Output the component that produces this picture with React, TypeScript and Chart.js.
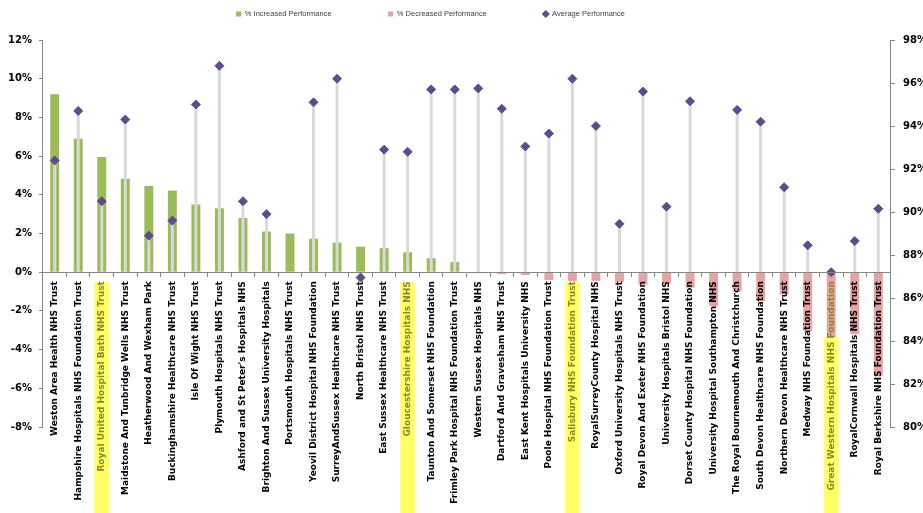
import React, { useEffect, useRef } from 'react';
import { Chart, registerables } from 'chart.js';

Chart.register(...registerables);

const categories = [
  'Weston Area Health NHS Trust',
  'Hampshire Hospitals NHS Foundation Trust',
  'Royal United Hospital Bath NHS Trust',
  'Maidstone And Tunbridge Wells NHS Trust',
  'Heatherwood And Wexham Park',
  'Buckinghamshire Healthcare NHS Trust',
  'Isle Of Wight NHS Trust',
  'Plymouth Hospitals NHS Trust',
  "Ashford and St Peter's Hospitals NHS",
  'Brighton And Sussex University Hospitals',
  'Portsmouth Hospitals NHS Trust',
  'Yeovil District Hospital NHS Foundation',
  'SurreyAndSussex Healthcare NHS Trust',
  'North Bristol NHS Trust',
  'East Sussex Healthcare NHS Trust',
  'Gloucestershire Hospitals NHS',
  'Taunton And Somerset NHS Foundation',
  'Frimley Park Hospital NHS Foundation Trust',
  'Western Sussex Hospitals NHS',
  'Dartford And Gravesham NHS Trust',
  'East Kent Hospitals University NHS',
  'Poole Hospital NHS Foundation Trust',
  'Salisbury NHS Foundation Trust',
  'RoyalSurreyCounty Hospital NHS',
  'Oxford University Hospitals NHS Trust',
  'Royal Devon And Exeter NHS Foundation',
  'University Hospitals Bristol NHS',
  'Dorset County Hospital NHS Foundation',
  'University Hospital Southampton NHS',
  'The Royal Bournemouth And Christchurch',
  'South Devon Healthcare NHS Foundation',
  'Northern Devon Healthcare NHS Trust',
  'Medway NHS Foundation Trust',
  'Great Western Hospitals NHS Foundation',
  'RoyalCornwall Hospitals NHS Trust',
  'Royal Berkshire NHS Foundation Trust',
];

const increased = [
  9.2, 6.9, 5.95, 4.83, 4.45, 4.22, 3.5, 3.3, 2.8, 2.1, 2.0, 1.73,
  1.53, 1.32, 1.24, 1.03, 0.72, 0.52,
  null, null, null, null, null, null, null, null, null, null, null, null,
  null, null, null, null, null, null,
];

const decreased = [
  null, null, null, null, null, null, null, null, null, null, null, null,
  null, null, null, null, null, null,
  -0.05, -0.1, -0.15, -0.4, -0.45, -0.45, -0.5, -0.65, -0.6, -0.8, -1.75, -1.0,
  -1.5, -1.15, -3.05, -3.35, -3.2, -5.35,
];

const average = [
  92.4, 94.7, 90.5, 94.3, 88.9, 89.6, 95.0, 96.8, 90.5, 89.9, null, 95.1,
  96.2, 86.95, 92.9, 92.8, 95.7, 95.7, 95.75, 94.8, 93.05, 93.65, 96.2, 94.0,
  89.45, 95.6, 90.25, 95.15, null, 94.75, 94.2, 91.15, 88.45, 87.2, 88.65, 90.15,
];

const highlighted = [
  'Royal United Hospital Bath NHS Trust',
  'Gloucestershire Hospitals NHS',
  'Salisbury NHS Foundation Trust',
  'Great Western Hospitals NHS Foundation',
];

const seriesNames = ['% Increased Performance', '% Decreased Performance', 'Average Performance'];

const AXIS = '#868686';

const dropLines = {
  id: 'dropLines',
  beforeDatasetDraw(chart: any, args: any) {
    if (args.index !== 2) return;
    const ctx = chart.ctx;
    const y0 = chart.scales.y.getPixelForValue(0);
    ctx.save();
    ctx.strokeStyle = '#D9D9D9';
    ctx.lineWidth = 3;
    args.meta.data.forEach((pt: any, i: number) => {
      if (average[i] == null) return;
      ctx.beginPath();
      ctx.moveTo(pt.x, pt.y);
      ctx.lineTo(pt.x, y0);
      ctx.stroke();
    });
    ctx.restore();
  },
};

const highlightBoxes = {
  id: 'highlightBoxes',
  beforeDatasetsDraw(chart: any) {
    const xs = chart.scales.x;
    const ys = chart.scales.y;
    const ctx = chart.ctx;
    const y0 = ys.getPixelForValue(0);
    ctx.save();
    ctx.fillStyle = '#FFFF66';
    highlighted.forEach((name) => {
      const i = categories.indexOf(name);
      if (i < 0) return;
      const cx = xs.getPixelForValue(i);
      const barEnd = decreased[i] != null ? ys.getPixelForValue(decreased[i] as number) : y0;
      const top = Math.max(y0 + 10, barEnd);
      ctx.fillRect(cx - 7.5, top, 15, chart.height - top);
    });
    ctx.restore();
  },
};

const LEGEND_PAD = 56.5;
const LEGEND_SHIFT_X = -37.5;
const LEGEND_CENTER_Y = 14;
const legendTweak = {
  id: 'legendTweak',
  afterInit(chart: any) {
    const lg = chart.legend;
    if (!lg || lg._tweaked) return;
    lg._tweaked = true;
    const fit = lg.fit.bind(lg);
    lg.fit = function () {
      fit();
      this.height = 40;
    };
    const draw = lg.draw.bind(lg);
    lg.draw = function () {
      const saved = { top: this.top, left: this.left, right: this.right };
      const half = (this.options.labels.font.size || 8) / 2;
      this.top = saved.top + LEGEND_CENTER_Y - half - LEGEND_PAD;
      this.left = saved.left + LEGEND_SHIFT_X;
      this.right = saved.right + LEGEND_SHIFT_X;
      draw();
      this.top = saved.top;
      this.left = saved.left;
      this.right = saved.right;
    };
  },
};

export default function App() {
  const ref = useRef<HTMLCanvasElement | null>(null);

  useEffect(() => {
    if (!ref.current) return;
    Chart.defaults.font.family = 'DejaVu Sans';
    const chart = new Chart(ref.current, {
      type: 'bar',
      data: {
        labels: categories,
        datasets: [
          {
            type: 'bar',
            label: seriesNames[0],
            data: increased,
            backgroundColor: '#9BBB59',
            yAxisID: 'y',
            grouped: false,
            barPercentage: 0.38,
            categoryPercentage: 1,
            pointStyle: 'rect',
            order: 1,
          } as any,
          {
            type: 'bar',
            label: seriesNames[1],
            data: decreased,
            backgroundColor: '#E6A3A3',
            yAxisID: 'y',
            grouped: false,
            barPercentage: 0.38,
            categoryPercentage: 1,
            pointStyle: 'rect',
            order: 1,
          } as any,
          {
            type: 'line',
            label: seriesNames[2],
            data: average,
            yAxisID: 'y1',
            showLine: false,
            pointStyle: 'rectRot',
            pointRadius: 4.5,
            pointBackgroundColor: '#5F4B8B',
            pointBorderColor: '#5F4B8B',
            backgroundColor: '#5F4B8B',
            borderColor: '#5F4B8B',
            order: 0,
          } as any,
        ],
      },
      options: {
        responsive: false,
        animation: false,
        layout: { padding: { left: 1, right: 0, top: 0, bottom: 86 } },
        plugins: {
          tooltip: { enabled: false },
          legend: {
            position: 'top',
            labels: {
              usePointStyle: true,
              boxWidth: 5,
              boxHeight: 5,
              padding: LEGEND_PAD,
              color: '#404040',
              font: { family: 'Liberation Sans', size: 7.5 },
              sort: (a: any, b: any) => a.datasetIndex - b.datasetIndex,
            },
          },
        },
        scales: {
          x: {
            type: 'category',
            position: { y: 0 } as any,
            offset: true,
            grid: {
              display: true,
              drawOnChartArea: false,
              drawTicks: true,
              tickLength: 4,
              color: AXIS,
              offset: true,
              z: 1,
            },
            border: { display: true, color: AXIS, z: 1 },
            ticks: {
              z: 1,
              autoSkip: false,
              maxRotation: 90,
              minRotation: 90,
              padding: 5,
              font: { family: 'DejaVu Sans', size: 9, weight: 'bold' },
              color: (c: any) =>
                highlighted.includes(categories[c.index]) ? '#8A8A2A' : '#000000',
            },
          },
          y: {
            type: 'linear',
            position: 'left',
            min: -8,
            max: 12,
            grid: { drawOnChartArea: false, tickLength: 4, color: AXIS },
            border: { color: AXIS },
            ticks: {
              stepSize: 2,
              padding: 7,
              color: '#000000',
              font: { family: 'DejaVu Sans', size: 10, weight: 'bold' },
              callback: (v: any) => v + '%',
            },
          },
          y1: {
            type: 'linear',
            position: 'right',
            min: 80,
            max: 98,
            grid: { drawOnChartArea: false, tickLength: 5, color: AXIS },
            border: { color: AXIS },
            ticks: {
              stepSize: 2,
              padding: 8,
              color: '#000000',
              font: { family: 'DejaVu Sans', size: 10, weight: 'bold' },
              callback: (v: any) => v + '%',
            },
          },
        },
      } as any,
      plugins: [legendTweak, highlightBoxes, dropLines],
    });
    return () => chart.destroy();
  }, []);

  return (
    <div
      style={{
        position: 'fixed',
        left: 0,
        top: 0,
        width: 923,
        height: 513,
        overflow: 'hidden',
        background: '#ffffff',
      }}
    >
      <canvas ref={ref} width={935} height={513} style={{ display: 'block', width: 935, height: 513 }} />
    </div>
  );
}
